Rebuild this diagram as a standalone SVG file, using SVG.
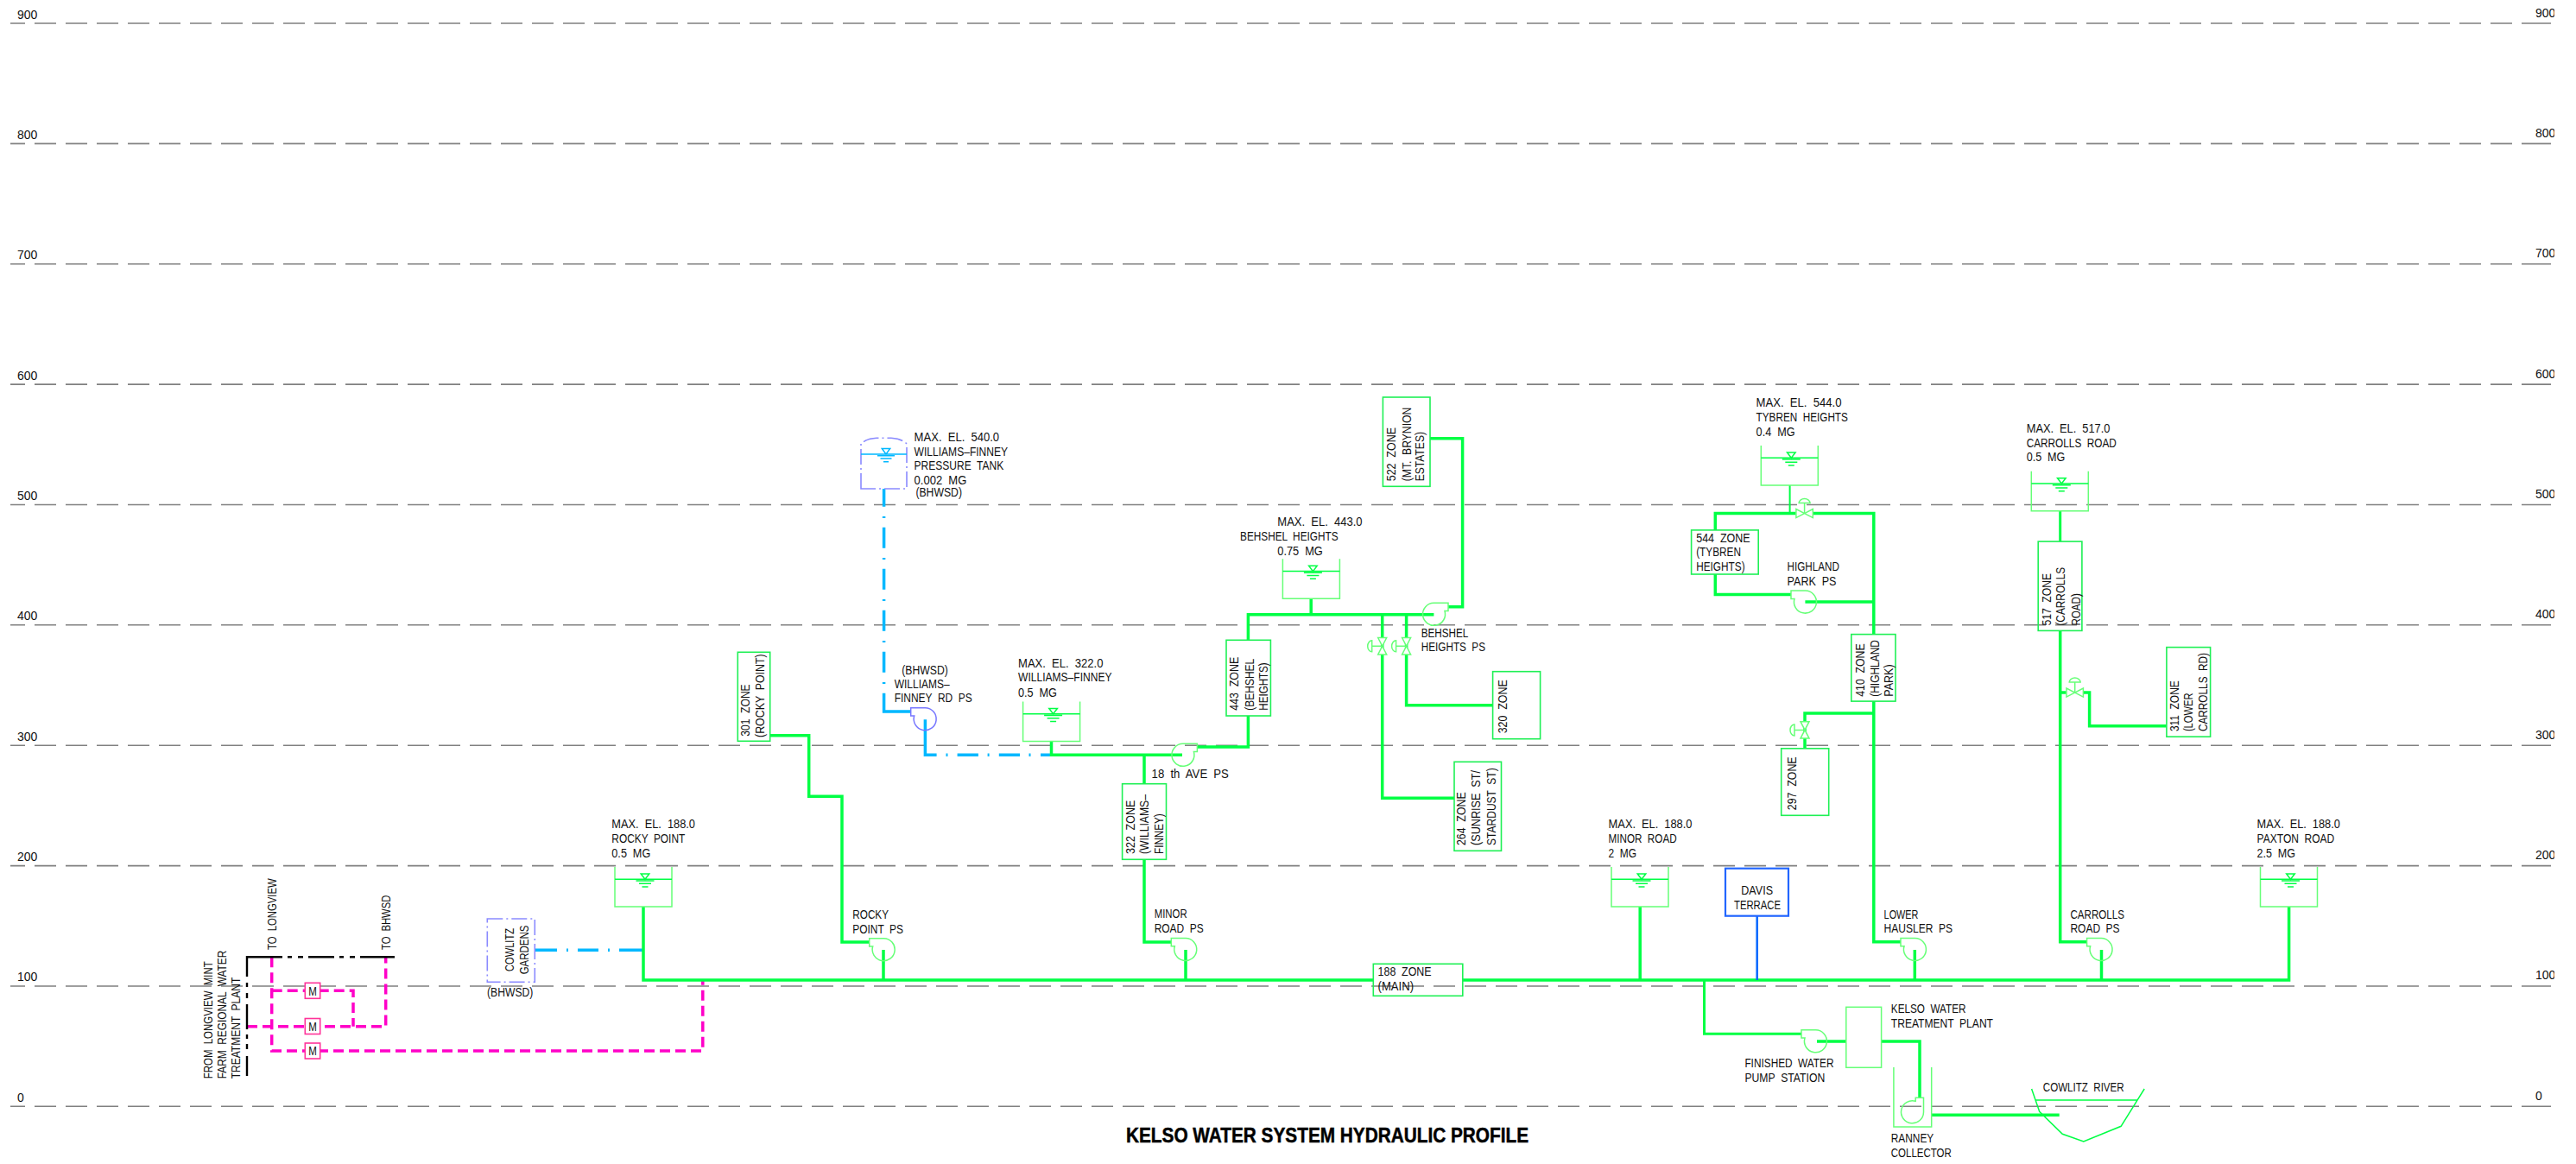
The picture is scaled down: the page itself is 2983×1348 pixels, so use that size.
<svg xmlns="http://www.w3.org/2000/svg" xmlns:xlink="http://www.w3.org/1999/xlink" width="2983" height="1348" viewBox="0 0 2983 1348">
<style>
text{font-family:"Liberation Sans",Arial,sans-serif;fill:#111}
.t{font-size:15px;word-spacing:4px}
.g{font-size:14px}
.title{font-size:24px;font-weight:bold;fill:#000;stroke:#000;stroke-width:.5}
.grid{stroke:#808080;stroke-width:1.6;fill:none}
.gd{stroke-dasharray:25 11;stroke-dashoffset:4}
.pipe{fill:none;stroke:#00ff44;stroke-width:3.5}
.thin{fill:none;stroke:#00ff44;stroke-width:2}
.bl{fill:none;stroke:#00b8ff;stroke-width:3.5}
.davis{fill:none;stroke:#0a6cff;stroke-width:2.6}
.pk{fill:none;stroke:#ff00c8;stroke-width:3.5;stroke-dasharray:12 6}
.bk{fill:none;stroke:#000;stroke-width:2.4}
.zone{fill:none;stroke:#1ff055;stroke-width:1.6}
.lt{fill:none;stroke:#66ff77;stroke-width:1.5}
.wl{fill:none;stroke:#00ff44;stroke-width:1.5}
.pur{fill:none;stroke:#8a8aff;stroke-width:1.6;stroke-dasharray:18 4 2 4}
.pbl{fill:none;stroke:#7777ff;stroke-width:1.5}
.wb{fill:none;stroke:#00b8ff;stroke-width:1.5}
.mb{fill:#fff;stroke:#ff3399;stroke-width:1.6}
.dv{fill:#fff;stroke:#2266ff;stroke-width:2.2}
</style>
<defs>
<clipPath id="rc"><rect x="2900" y="0" width="58" height="1348"/></clipPath>
<path id="pump" d="M0,-13H-16.7V-3.7H-12.7A13,13 0 1 0 0,-13Z"/>
<g id="tank">
<path class="lt" d="M0,0V46H66V0"/>
<path class="wl" d="M0,14.3H66M30.2,8H39.8L35,14.3ZM24.5,16H45.5M28,19.3H42M31.5,23H38.5"/>
</g>
<g id="valve">
<path class="lt" style="fill:#fff" d="M-5,-9.7H5L-5,9.7H5Z"/>
<path class="lt" d="M0,0H-12M-12,-6.5A5,6.5 0 0 0 -12,6.5Z"/>
</g>
</defs>
<rect width="2983" height="1348" fill="#fff"/>
<g id="grid">
<path class="grid gd" d="M8,27H2924M8,166.4H2924M8,305.8H2924M8,445.1H2924M8,584.5H2924M8,723.8H2924M8,863.2H2924M8,1002.6H2924M8,1142H2924M8,1281.3H2924"/>
<path fill="#fff" d="M0,0H12V1348H0Z"/>
<path class="grid" d="M2924,27H2954M2924,166.4H2954M2924,305.8H2954M2924,445.1H2954M2924,584.5H2954M2924,723.8H2954M2924,863.2H2954M2924,1002.6H2954M2924,1142H2954M2924,1281.3H2954"/>
<g class="g">
<text class="g" x="20" y="22">900</text><text class="g" x="20" y="160.5">800</text><text class="g" x="20" y="300">700</text><text class="g" x="20" y="439.5">600</text><text class="g" x="20" y="578.5">500</text><text class="g" x="20" y="718">400</text><text class="g" x="20" y="857.5">300</text><text class="g" x="20" y="997">200</text><text class="g" x="20" y="1136">100</text><text class="g" x="20" y="1275.5">0</text>
</g>
<g clip-path="url(#rc)">
<text class="g" x="2936" y="20">900</text><text class="g" x="2936" y="158.5">800</text><text class="g" x="2936" y="298">700</text><text class="g" x="2936" y="437.5">600</text><text class="g" x="2936" y="576.5">500</text><text class="g" x="2936" y="716">400</text><text class="g" x="2936" y="855.5">300</text><text class="g" x="2936" y="995">200</text><text class="g" x="2936" y="1134">100</text><text class="g" x="2936" y="1273.5">0</text>
</g>
</g>
<g id="connectors">
<path class="pk" d="M286,1188.7H446.7V1108.3"/>
<path class="pk" d="M314.7,1108.3V1217H813.8V1136"/>
<path class="pk" d="M314.7,1147.3H409V1188.7"/>
<path class="bk" d="M286,1131V1108.3H327M333,1108.3H338M345,1108.3H351M357,1108.3H387M393,1108.3H398M405,1108.3H411M417,1108.3H457M286,1138V1143M286,1150V1156M286,1163V1192M286,1198V1203M286,1209V1215M286,1223V1246"/>
<path class="bl" d="M619.3,1100.3H645M656,1100.3H658M669,1100.3H693M704,1100.3H706M717,1100.3H745"/>
<path class="pipe" d="M745,1050V1135H1590.3M1693.8,1135H2650.6V1050"/>
<path class="pipe" d="M891.7,851.7H936.7V922.3H975V1091H1006.7M1023,1135V1100"/>
<path class="bl" d="M1023.6,566V586.7M1023.6,598V600M1023.6,610.7V634.7M1023.6,646V648M1023.6,658.7V682.7M1023.6,694V696M1023.6,706.7V730.7M1023.6,742V744M1023.6,754.7V778.7M1023.6,790V792M1023.6,802.7V824H1054.3"/>
<path class="bl" d="M1071.4,833.3V874.3H1084.6M1095.5,874.3H1097.5M1108.6,874.3H1132.9M1143.6,874.3H1145.6M1156.8,874.3H1181M1191.5,874.3H1193.5M1205,874.3H1217.5"/>
<path class="pipe" d="M1217.5,858.7V874.3H1369M1325,874.3V907.7M1325,995.3V1091H1356.3M1373,1100V1135"/>
<path class="pipe" d="M1386.4,865H1445.4V829M1445.4,741.3V711.7H1660.4M1518.2,693.3V711.7"/>
<path class="pipe" d="M1677,702.7H1693.6V507.7H1656"/>
<path class="pipe" d="M1600.7,711.7V924.3H1684M1628.6,711.7V816.7H1728.6"/>
<path class="pipe" d="M1899.2,1050V1135"/>
<path class="davis" d="M2034.7,1060.7V1135"/>
<path class="pipe" style="stroke-width:3" d="M1973.5,1135V1197.3H2086"/>
<path class="pipe" d="M2104,1206H2137.8M2178.6,1206H2223V1271.7M2236.7,1291.3H2384.7"/>
<path class="thin" d="M2072.6,562V594.6"/>
<path class="pipe" d="M2079.6,594.6H1986.3V613.9M1986.3,665V688.6H2074M2099.6,594.6H2169.8V734.6M2090.4,697.1H2169.8"/>
<path class="pipe" d="M2169.8,812.1V1090.7H2201M2217.3,1135V1100M2169.8,826.1H2090V866.8"/>
<path class="pipe" style="stroke-width:3" d="M2385.7,591.8V627.1"/>
<path class="pipe" d="M2385.7,730.4V1090.7H2416.3M2433.5,1135V1100M2385.7,802.1H2392.7M2412.7,802.1H2419.6V840.7H2508.9"/>
</g>
<g id="meters">
<g id="meter1"><rect class="mb" x="353.3" y="1138.3" width="17.4" height="18"/><text class="g" x="357.2" y="1152.5" textLength="9.6" lengthAdjust="spacingAndGlyphs">M</text></g>
<g id="meter2"><rect class="mb" x="353.3" y="1179.5" width="17.4" height="18"/><text class="g" x="357.2" y="1193.5" textLength="9.6" lengthAdjust="spacingAndGlyphs">M</text></g>
<g id="meter3"><rect class="mb" x="353.3" y="1208" width="17.4" height="18"/><text class="g" x="357.2" y="1222" textLength="9.6" lengthAdjust="spacingAndGlyphs">M</text></g>
</g>
<g id="longview-labels">
<text class="t" transform="translate(319.6 1100) rotate(-90)" textLength="82.7" lengthAdjust="spacingAndGlyphs">TO LONGVIEW</text>
<text class="t" transform="translate(452.2 1100) rotate(-90)" textLength="63.3" lengthAdjust="spacingAndGlyphs">TO BHWSD</text>
<text class="t" transform="translate(246 1249.3) rotate(-90)" textLength="136" lengthAdjust="spacingAndGlyphs">FROM LONGVIEW MINT</text>
<text class="t" transform="translate(261.6 1249.3) rotate(-90)" textLength="148.6" lengthAdjust="spacingAndGlyphs">FARM REGIONAL WATER</text>
<text class="t" transform="translate(278 1249.3) rotate(-90)" textLength="117.6" lengthAdjust="spacingAndGlyphs">TREATMENT PLANT</text>
</g>
<g id="cowlitz-gardens">
<rect class="pur" x="564.3" y="1064" width="55" height="73.3"/>
<text class="t" transform="translate(595 1125) rotate(-90)" textLength="50" lengthAdjust="spacingAndGlyphs">COWLITZ</text>
<text class="t" transform="translate(612.3 1128.3) rotate(-90)" textLength="56.7" lengthAdjust="spacingAndGlyphs">GARDENS</text>
<text class="t" x="564" y="1153.5" textLength="53.3" lengthAdjust="spacingAndGlyphs">(BHWSD)</text>
</g>
<g id="tank-rocky-point">
<use xlink:href="#tank" href="#tank" x="712" y="1004"/>
<text class="t" x="708.3" y="959.3" textLength="96.7" lengthAdjust="spacingAndGlyphs">MAX. EL. 188.0</text>
<text class="t" x="708.3" y="976" textLength="85" lengthAdjust="spacingAndGlyphs">ROCKY POINT</text>
<text class="t" x="708.3" y="992.7" textLength="45" lengthAdjust="spacingAndGlyphs">0.5 MG</text>
</g>
<g id="zone-301">
<rect class="zone" x="854.3" y="755.3" width="37.4" height="103"/>
<text class="t" transform="translate(868.3 852.7) rotate(-90)" textLength="60.4" lengthAdjust="spacingAndGlyphs">301 ZONE</text>
<text class="t" transform="translate(885 854) rotate(-90)" textLength="96.7" lengthAdjust="spacingAndGlyphs">(ROCKY POINT)</text>
</g>
<g id="pump-rocky-point">
<use class="lt" xlink:href="#pump" href="#pump" transform="translate(1023.4 1099.7)"/>
<text class="t" x="987.3" y="1064" textLength="41.7" lengthAdjust="spacingAndGlyphs">ROCKY</text>
<text class="t" x="987.3" y="1080.7" textLength="58.7" lengthAdjust="spacingAndGlyphs">POINT PS</text>
</g>
<g id="tank-pressure">
<path class="pur" d="M997,566V514Q1003,508 1015,507.3H1032Q1044,508 1050,514V566Z"/>
<path class="wb" d="M997,526H1050M1021.3,519.5H1030.7L1026,526ZM1016,527.7H1036M1019.5,531H1032.5M1023,534.7H1029"/>
<text class="t" x="1058.6" y="510.7" textLength="98.5" lengthAdjust="spacingAndGlyphs">MAX. EL. 540.0</text>
<text class="t" x="1058.6" y="527.7" textLength="108.5" lengthAdjust="spacingAndGlyphs">WILLIAMS–FINNEY</text>
<text class="t" x="1058.6" y="544.3" textLength="103.6" lengthAdjust="spacingAndGlyphs">PRESSURE TANK</text>
<text class="t" x="1058.6" y="561.3" textLength="60.7" lengthAdjust="spacingAndGlyphs">0.002 MG</text>
<text class="t" x="1060.4" y="575" textLength="53.6" lengthAdjust="spacingAndGlyphs">(BHWSD)</text>
</g>
<g id="pump-williams-finney-rd">
<use class="pbl" xlink:href="#pump" href="#pump" transform="translate(1071.4 832.7)"/>
<text class="t" x="1044.3" y="781" textLength="53.6" lengthAdjust="spacingAndGlyphs">(BHWSD)</text>
<text class="t" x="1035.7" y="796.7" textLength="63.9" lengthAdjust="spacingAndGlyphs">WILLIAMS–</text>
<text class="t" x="1035.7" y="813.3" textLength="90" lengthAdjust="spacingAndGlyphs">FINNEY RD PS</text>
</g>
<g id="tank-williams-finney">
<use xlink:href="#tank" href="#tank" x="1184.6" y="812.5"/>
<text class="t" x="1179" y="772.7" textLength="98.5" lengthAdjust="spacingAndGlyphs">MAX. EL. 322.0</text>
<text class="t" x="1179" y="789.3" textLength="108.5" lengthAdjust="spacingAndGlyphs">WILLIAMS–FINNEY</text>
<text class="t" x="1179" y="806.7" textLength="45" lengthAdjust="spacingAndGlyphs">0.5 MG</text>
</g>
<g id="pump-18th-ave">
<use class="lt" xlink:href="#pump" href="#pump" transform="translate(1369.7 874.3) scale(-1 1)"/>
<text class="t" x="1333.6" y="900.7" textLength="89.3" lengthAdjust="spacingAndGlyphs">18 th AVE PS</text>
</g>
<g id="zone-322">
<rect class="zone" x="1299.6" y="907.7" width="50.9" height="87.6"/>
<text class="t" transform="translate(1313.5 989) rotate(-90)" textLength="62.3" lengthAdjust="spacingAndGlyphs">322 ZONE</text>
<text class="t" transform="translate(1330 989) rotate(-90)" textLength="69" lengthAdjust="spacingAndGlyphs">(WILLIAMS–</text>
<text class="t" transform="translate(1347 989) rotate(-90)" textLength="46.7" lengthAdjust="spacingAndGlyphs">FINNEY)</text>
</g>
<g id="pump-minor-road">
<use class="lt" xlink:href="#pump" href="#pump" transform="translate(1373 1099.5)"/>
<text class="t" x="1336.7" y="1063.3" textLength="37.9" lengthAdjust="spacingAndGlyphs">MINOR</text>
<text class="t" x="1336.7" y="1080" textLength="57" lengthAdjust="spacingAndGlyphs">ROAD PS</text>
</g>
<g id="zone-443">
<rect class="zone" x="1420" y="741.3" width="51.4" height="87.7"/>
<text class="t" transform="translate(1434.3 822.7) rotate(-90)" textLength="62" lengthAdjust="spacingAndGlyphs">443 ZONE</text>
<text class="t" transform="translate(1452 822.7) rotate(-90)" textLength="60" lengthAdjust="spacingAndGlyphs">(BEHSHEL</text>
<text class="t" transform="translate(1468 822.7) rotate(-90)" textLength="55.4" lengthAdjust="spacingAndGlyphs">HEIGHTS)</text>
</g>
<g id="tank-behshel">
<use xlink:href="#tank" href="#tank" x="1485.4" y="647.3"/>
<text class="t" x="1479.3" y="609.3" textLength="98.2" lengthAdjust="spacingAndGlyphs">MAX. EL. 443.0</text>
<text class="t" x="1436" y="626" textLength="113.6" lengthAdjust="spacingAndGlyphs">BEHSHEL HEIGHTS</text>
<text class="t" x="1479.3" y="642.7" textLength="52.5" lengthAdjust="spacingAndGlyphs">0.75 MG</text>
</g>
<g id="zone-522">
<rect class="zone" x="1601.4" y="460" width="54.6" height="103.3"/>
<text class="t" transform="translate(1615.7 557.3) rotate(-90)" textLength="62.3" lengthAdjust="spacingAndGlyphs">522 ZONE</text>
<text class="t" transform="translate(1633.6 557.3) rotate(-90)" textLength="85.6" lengthAdjust="spacingAndGlyphs">(MT. BRYNION</text>
<text class="t" transform="translate(1649 557.3) rotate(-90)" textLength="57.3" lengthAdjust="spacingAndGlyphs">ESTATES)</text>
</g>
<g id="pump-behshel-heights">
<use class="lt" xlink:href="#pump" href="#pump" transform="translate(1660.3 711.3) scale(-1 1)"/>
<text class="t" x="1645.7" y="737.7" textLength="54.7" lengthAdjust="spacingAndGlyphs">BEHSHEL</text>
<text class="t" x="1645.7" y="754.3" textLength="74.3" lengthAdjust="spacingAndGlyphs">HEIGHTS PS</text>
</g>
<g id="valve-264"><use xlink:href="#valve" href="#valve" transform="translate(1600.7 748.3)"/></g>
<g id="valve-320"><use xlink:href="#valve" href="#valve" transform="translate(1628.6 748.3)"/></g>
<g id="zone-320">
<rect class="zone" x="1728.6" y="777.7" width="55" height="78"/>
<text class="t" transform="translate(1745.4 849.3) rotate(-90)" textLength="62" lengthAdjust="spacingAndGlyphs">320 ZONE</text>
</g>
<g id="zone-264">
<rect class="zone" x="1684" y="882.3" width="54.5" height="103"/>
<text class="t" transform="translate(1697.4 979) rotate(-90)" textLength="61.7" lengthAdjust="spacingAndGlyphs">264 ZONE</text>
<text class="t" transform="translate(1714.4 979) rotate(-90)" textLength="87" lengthAdjust="spacingAndGlyphs">(SUNRISE ST/</text>
<text class="t" transform="translate(1731.8 979) rotate(-90)" textLength="89.7" lengthAdjust="spacingAndGlyphs">STARDUST ST)</text>
</g>
<g id="zone-188">
<rect class="zone" x="1590.3" y="1116.3" width="103.5" height="37"/>
<text class="t" x="1595.6" y="1130" textLength="62" lengthAdjust="spacingAndGlyphs">188 ZONE</text>
<text class="t" x="1595.6" y="1146.7" textLength="41.4" lengthAdjust="spacingAndGlyphs">(MAIN)</text>
</g>
<g id="tank-minor-road">
<use xlink:href="#tank" href="#tank" x="1866" y="1004"/>
<text class="t" x="1862.6" y="958.7" textLength="96.9" lengthAdjust="spacingAndGlyphs">MAX. EL. 188.0</text>
<text class="t" x="1862.6" y="976" textLength="79" lengthAdjust="spacingAndGlyphs">MINOR ROAD</text>
<text class="t" x="1862.6" y="992.7" textLength="32.4" lengthAdjust="spacingAndGlyphs">2 MG</text>
</g>
<g id="davis-terrace">
<rect class="dv" x="1998" y="1005.7" width="73" height="55"/>
<text class="t" x="2016.3" y="1036" textLength="36.7" lengthAdjust="spacingAndGlyphs">DAVIS</text>
<text class="t" x="2008" y="1052.7" textLength="54" lengthAdjust="spacingAndGlyphs">TERRACE</text>
</g>
<g id="tank-tybren">
<use xlink:href="#tank" href="#tank" x="2039.3" y="516"/>
<text class="t" x="2033.6" y="471.4" textLength="98.9" lengthAdjust="spacingAndGlyphs">MAX. EL. 544.0</text>
<text class="t" x="2033.6" y="488.2" textLength="106.3" lengthAdjust="spacingAndGlyphs">TYBREN HEIGHTS</text>
<text class="t" x="2033.6" y="505" textLength="45" lengthAdjust="spacingAndGlyphs">0.4 MG</text>
</g>
<g id="valve-tybren"><use xlink:href="#valve" href="#valve" transform="translate(2089.6 594.6) rotate(90)"/></g>
<g id="zone-544">
<rect class="zone" x="1958.6" y="613.9" width="77.6" height="51.1"/>
<text class="t" x="1964.2" y="627.5" textLength="62.5" lengthAdjust="spacingAndGlyphs">544 ZONE</text>
<text class="t" x="1964.2" y="644.3" textLength="51.8" lengthAdjust="spacingAndGlyphs">(TYBREN</text>
<text class="t" x="1964.2" y="660.7" textLength="56.4" lengthAdjust="spacingAndGlyphs">HEIGHTS)</text>
</g>
<g id="pump-highland-park">
<use class="lt" xlink:href="#pump" href="#pump" transform="translate(2090.7 697.1)"/>
<text class="t" x="2069.6" y="661.4" textLength="60.3" lengthAdjust="spacingAndGlyphs">HIGHLAND</text>
<text class="t" x="2069.6" y="678.2" textLength="56.8" lengthAdjust="spacingAndGlyphs">PARK PS</text>
</g>
<g id="zone-410">
<rect class="zone" x="2143.8" y="734.6" width="51.2" height="77.5"/>
<text class="t" transform="translate(2158.5 806.8) rotate(-90)" textLength="61.4" lengthAdjust="spacingAndGlyphs">410 ZONE</text>
<text class="t" transform="translate(2175.8 806.8) rotate(-90)" textLength="65.8" lengthAdjust="spacingAndGlyphs">(HIGHLAND</text>
<text class="t" transform="translate(2192.3 806.8) rotate(-90)" textLength="37.5" lengthAdjust="spacingAndGlyphs">PARK)</text>
</g>
<g id="valve-297"><use xlink:href="#valve" href="#valve" transform="translate(2090 845.4)"/></g>
<g id="zone-297">
<rect class="zone" x="2062.7" y="866.8" width="55" height="77.5"/>
<text class="t" transform="translate(2079.6 938.2) rotate(-90)" textLength="61.8" lengthAdjust="spacingAndGlyphs">297 ZONE</text>
</g>
<g id="pump-lower-hausler">
<use class="lt" xlink:href="#pump" href="#pump" transform="translate(2217.7 1099.5)"/>
<text class="t" x="2181.6" y="1064" textLength="39.8" lengthAdjust="spacingAndGlyphs">LOWER</text>
<text class="t" x="2181.6" y="1080.3" textLength="79.4" lengthAdjust="spacingAndGlyphs">HAUSLER PS</text>
</g>
<g id="pump-finished-water">
<use class="lt" xlink:href="#pump" href="#pump" transform="translate(2102.7 1205.8)"/>
<text class="t" x="2020.4" y="1236" textLength="103.1" lengthAdjust="spacingAndGlyphs">FINISHED WATER</text>
<text class="t" x="2020.4" y="1253" textLength="92.9" lengthAdjust="spacingAndGlyphs">PUMP STATION</text>
</g>
<g id="kelso-treatment-plant">
<rect class="lt" x="2137.8" y="1166.3" width="40.8" height="70"/>
<text class="t" x="2189.8" y="1173" textLength="86.7" lengthAdjust="spacingAndGlyphs">KELSO WATER</text>
<text class="t" x="2189.8" y="1189.7" textLength="118.2" lengthAdjust="spacingAndGlyphs">TREATMENT PLANT</text>
</g>
<g id="ranney-collector">
<path class="lt" d="M2192.9,1236V1305H2236.7V1236"/>
<use class="lt" xlink:href="#pump" href="#pump" transform="translate(2214.5 1288) rotate(90)"/>
<text class="t" x="2189.8" y="1323.3" textLength="49.5" lengthAdjust="spacingAndGlyphs">RANNEY</text>
<text class="t" x="2189.8" y="1340" textLength="69.9" lengthAdjust="spacingAndGlyphs">COLLECTOR</text>
</g>
<g id="cowlitz-river">
<path class="wl" d="M2352.6,1261L2361.7,1287.3L2388.3,1313.3L2412.8,1322L2456.1,1304.3L2483.2,1261M2356.6,1274H2475"/>
<text class="t" x="2365.8" y="1264" textLength="93.9" lengthAdjust="spacingAndGlyphs">COWLITZ RIVER</text>
</g>
<g id="tank-carrolls-road">
<use xlink:href="#tank" href="#tank" x="2352.3" y="545.7"/>
<text class="t" x="2346.7" y="500.7" textLength="96.7" lengthAdjust="spacingAndGlyphs">MAX. EL. 517.0</text>
<text class="t" x="2346.7" y="517.9" textLength="104.1" lengthAdjust="spacingAndGlyphs">CARROLLS ROAD</text>
<text class="t" x="2346.7" y="534.3" textLength="44.7" lengthAdjust="spacingAndGlyphs">0.5 MG</text>
</g>
<g id="zone-517">
<rect class="zone" x="2360.2" y="627.1" width="50.7" height="103.3"/>
<text class="t" transform="translate(2374.5 724.6) rotate(-90)" textLength="60.7" lengthAdjust="spacingAndGlyphs">517 ZONE</text>
<text class="t" transform="translate(2391.4 724.6) rotate(-90)" textLength="67.8" lengthAdjust="spacingAndGlyphs">(CARROLLS</text>
<text class="t" transform="translate(2408.7 724.6) rotate(-90)" textLength="37.5" lengthAdjust="spacingAndGlyphs">ROAD)</text>
</g>
<g id="valve-311"><use xlink:href="#valve" href="#valve" transform="translate(2402.7 802.1) rotate(90)"/></g>
<g id="zone-311">
<rect class="zone" x="2508.9" y="749.6" width="50.7" height="103.6"/>
<text class="t" transform="translate(2522.8 847.1) rotate(-90)" textLength="58.9" lengthAdjust="spacingAndGlyphs">311 ZONE</text>
<text class="t" transform="translate(2539.3 847.1) rotate(-90)" textLength="44.6" lengthAdjust="spacingAndGlyphs">(LOWER</text>
<text class="t" transform="translate(2556.2 847.1) rotate(-90)" textLength="91" lengthAdjust="spacingAndGlyphs">CARROLLS RD)</text>
</g>
<g id="pump-carrolls-road">
<use class="lt" xlink:href="#pump" href="#pump" transform="translate(2433.3 1099.5)"/>
<text class="t" x="2397.4" y="1064" textLength="62.6" lengthAdjust="spacingAndGlyphs">CARROLLS</text>
<text class="t" x="2397.4" y="1080.3" textLength="57.2" lengthAdjust="spacingAndGlyphs">ROAD PS</text>
</g>
<g id="tank-paxton-road">
<use xlink:href="#tank" href="#tank" x="2617.5" y="1004"/>
<text class="t" x="2613.6" y="959" textLength="96.2" lengthAdjust="spacingAndGlyphs">MAX. EL. 188.0</text>
<text class="t" x="2613.6" y="976" textLength="89.7" lengthAdjust="spacingAndGlyphs">PAXTON ROAD</text>
<text class="t" x="2613.6" y="992.7" textLength="44.4" lengthAdjust="spacingAndGlyphs">2.5 MG</text>
</g>
<text class="title" x="1304" y="1323.3" textLength="466" lengthAdjust="spacingAndGlyphs">KELSO WATER SYSTEM HYDRAULIC PROFILE</text>
</svg>
